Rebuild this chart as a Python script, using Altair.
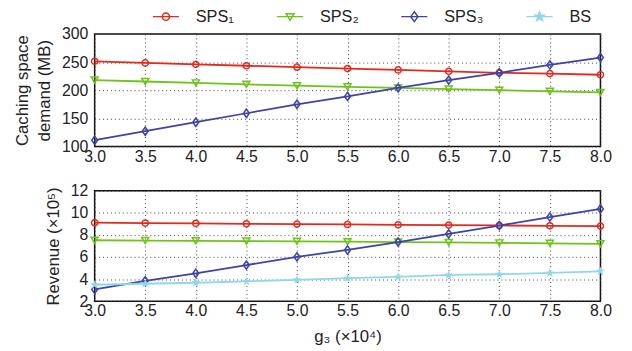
import altair as alt
import pandas as pd

FONT = "Liberation Sans"

g3 = [3.0, 3.5, 4.0, 4.5, 5.0, 5.5, 6.0, 6.5, 7.0, 7.5, 8.0]
series = ["SPS₁", "SPS₂", "SPS₃", "BS"]

cache_sps1 = [251.5, 248.5, 246, 243.5, 241, 238.5, 236, 233.5, 231, 229.5, 227.5]
cache_sps2 = [218, 215.5, 213, 210.5, 208, 206, 204, 202, 200, 198, 196]
cache_sps3 = [111, 127, 143, 159, 175, 189, 204, 218, 231, 245, 258]

rev_sps1 = [9.11, 9.08, 9.05, 9.01, 8.98, 8.95, 8.92, 8.89, 8.86, 8.83, 8.80]
rev_sps2 = [7.52, 7.49, 7.47, 7.44, 7.42, 7.39, 7.36, 7.32, 7.28, 7.24, 7.20]
rev_sps3 = [3.07, 3.85, 4.53, 5.27, 6.02, 6.64, 7.36, 8.10, 8.85, 9.62, 10.36]
rev_bs = [3.49, 3.58, 3.67, 3.79, 3.93, 4.08, 4.20, 4.38, 4.44, 4.56, 4.71]

x_ticks = [3.0, 3.5, 4.0, 4.5, 5.0, 5.5, 6.0, 6.5, 7.0, 7.5, 8.0]
cache_ticks = [100, 150, 200, 250, 300]
rev_ticks = [2, 4, 6, 8, 10, 12]

colors = ["#E42A1E", "#6FC41A", "#3D44A6", "#8FD8EC"]

# marker shapes (unit paths) for plot points
STAR = ("M0,-1L0.235,-0.324L0.951,-0.309L0.38,0.124L0.588,0.809L0,0.4"
        "L-0.588,0.809L-0.38,0.124L-0.951,-0.309L-0.235,-0.324Z")
DIAMOND = "M0,-1.4L1,0L0,1.4L-1,0Z"
point_shapes = ["circle", "triangle-down", DIAMOND, STAR]
point_sizes = [40, 50, 36, 90]
point_filled = [False, False, False, True]

# legend symbols: marker with a line through it
legend_paths = [
    "M-3.3,0L3.3,0M-0.9,0A0.9,0.9,0,1,1,0.9,0A0.9,0.9,0,1,1,-0.9,0Z",
    "M-3.3,0L3.3,0M-1,-0.75L1,-0.75L0,0.95Z",
    "M-3.3,0L3.3,0M0,-1.25L0.9,0L0,1.25L-0.9,0Z",
    "M-3.3,0L3.3,0M0,-1.2L0.28,-0.39L1.14,-0.37L0.46,0.15L0.71,0.97L0,0.48"
    "L-0.71,0.97L-0.46,0.15L-1.14,-0.37L-0.28,-0.39Z",
]

rows_top = []
for s, vals in zip(series[:3], [cache_sps1, cache_sps2, cache_sps3]):
    for xv, yv in zip(g3, vals):
        rows_top.append({"g3": xv, "value": yv, "series": s})
df_top = pd.DataFrame(rows_top)

rows_bot = []
for s, vals in zip(series, [rev_sps1, rev_sps2, rev_sps3, rev_bs]):
    for xv, yv in zip(g3, vals):
        rows_bot.append({"g3": xv, "value": yv, "series": s})
df_bot = pd.DataFrame(rows_bot)

W = 513


def x_enc(title):
    return alt.X("g3:Q", scale=alt.Scale(domain=[3, 8], nice=False),
                 axis=alt.Axis(values=x_ticks, format=".1f", title=title,
                               labelPadding=2, titlePadding=10,
                               labelFlush=False, labelOverlap=False))


def y_enc(y_dom, y_ticks, y_title):
    return alt.Y("value:Q", scale=alt.Scale(domain=y_dom, nice=False),
                 axis=alt.Axis(values=y_ticks, title=y_title, titlePadding=8,
                               titleLineHeight=22, labelPadding=7,
                               labelFlush=False, labelOverlap=False))


def panel(df, names, y_dom, y_ticks, y_title, x_title, height, with_legend):
    layers = []
    for s in names:
        i = series.index(s)
        base = alt.Chart(df).transform_filter(alt.datum.series == s)
        layers.append(base.mark_line(color=colors[i], strokeWidth=1.8)
                      .encode(x=x_enc(x_title), y=y_enc(y_dom, y_ticks, y_title)))
        layers.append(base.mark_point(shape=point_shapes[i], color=colors[i],
                                      filled=point_filled[i], size=point_sizes[i],
                                      strokeWidth=1.5, opacity=1)
                      .encode(x=x_enc(x_title), y=y_enc(y_dom, y_ticks, y_title)))
    if with_legend:
        leg = alt.Legend(title=None, orient="none", legendX=64, legendY=-26,
                         direction="horizontal", symbolSize=64,
                         symbolStrokeWidth=1.5, symbolOpacity=1,
                         labelFont=FONT, labelFontSize=16.5, labelColor="#222",
                         labelOffset=22, columnPadding=40)
        layers.append(
            alt.Chart(pd.DataFrame({"series": series, "g3": [3.0] * 4,
                                    "value": [y_dom[0]] * 4}))
            .mark_point(opacity=0)
            .encode(
                x=x_enc(x_title),
                y=y_enc(y_dom, y_ticks, y_title),
                shape=alt.Shape("series:N", scale=alt.Scale(domain=series, range=legend_paths), legend=leg),
                stroke=alt.Stroke("series:N", scale=alt.Scale(domain=series, range=colors), legend=leg),
                fill=alt.Fill("series:N", scale=alt.Scale(domain=series, range=["transparent", "transparent", "transparent", colors[3]]), legend=leg),
            )
        )
    return alt.layer(*layers).properties(width=W, height=height)


top = panel(df_top, series[:3], [100, 300], cache_ticks,
            ["Caching space", "demand (MB)"], None, 114, True)
bot = panel(df_bot, series, [2, 12], rev_ticks,
            "Revenue (×10⁵)", "g₃ (×10⁴)", 112, False)

chart = (
    alt.vconcat(top, bot, spacing=17)
    .properties(padding={"left": 13, "top": 6, "right": 20, "bottom": 2})
    .configure_view(stroke="#111", strokeWidth=1.5)
    .configure_axis(labelFont=FONT, labelFontSize=16, labelColor="#222",
                    titleFont=FONT, titleFontSize=17, titleFontWeight="normal",
                    titleColor="#222", grid=True, gridDash=[1, 3],
                    gridColor="#444", gridWidth=1, domain=False, ticks=False)
)

chart.save("out.html", embed_options={"renderer": "svg", "actions": False})
